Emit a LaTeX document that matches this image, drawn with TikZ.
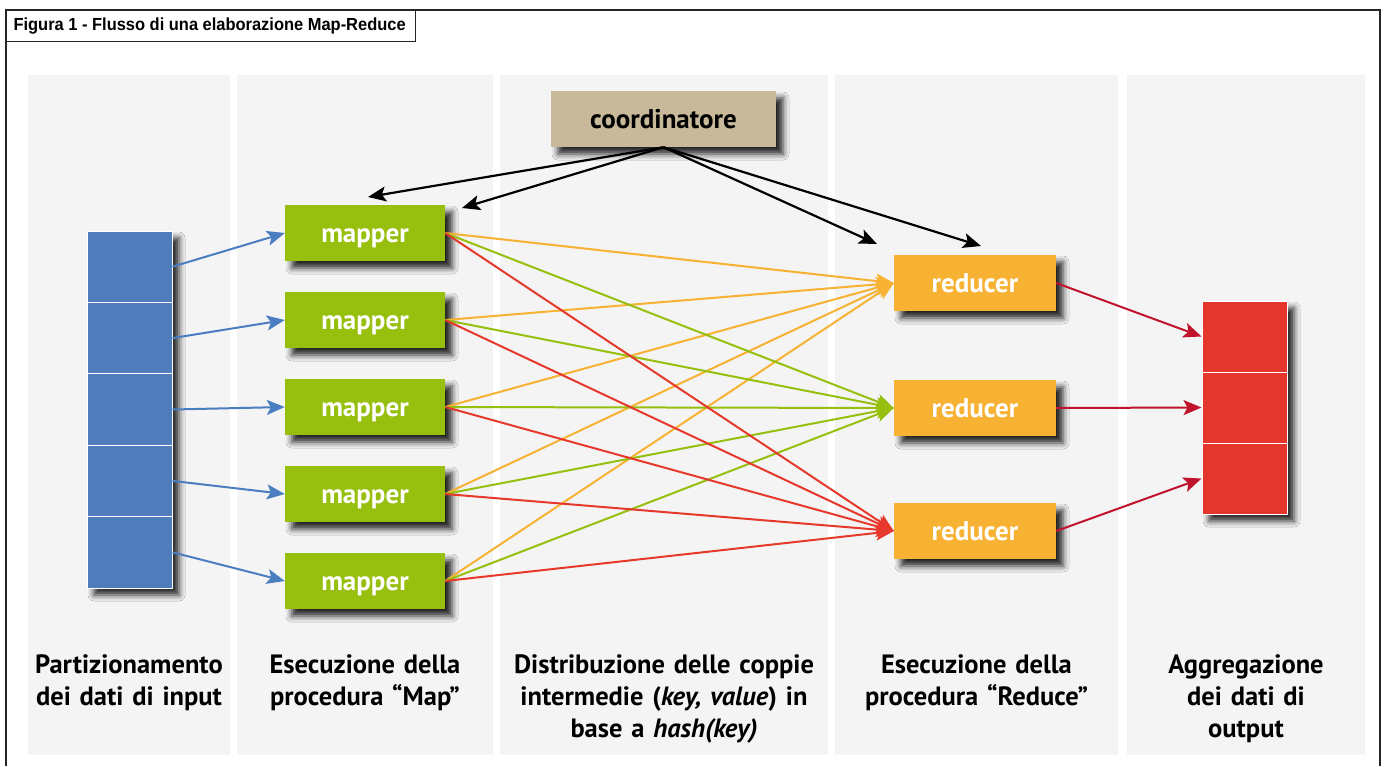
\documentclass[tikz,border=0pt]{standalone}
\usepackage{fontspec}
\setmainfont{PT Sans}
\newfontfamily\titlefont[FakeStretch=0.94]{Liberation Sans}
\usetikzlibrary{arrows.meta,shadows.blur}

\definecolor{panelbg}{HTML}{F4F4F4}
\definecolor{inblue}{HTML}{4F7CBA}
\definecolor{lineblue}{HTML}{4A7EC0}
\definecolor{mapgreen}{HTML}{97BF0D}
\definecolor{redorange}{HTML}{F7B233}
\definecolor{hotred}{HTML}{E6392C}
\definecolor{outred}{HTML}{E5362D}
\definecolor{darkred}{HTML}{C0132C}
\definecolor{tan}{HTML}{C9B99B}

\tikzset{
  panel/.style={fill=panelbg, draw=none},
  dropshadow/.style={blur shadow={shadow xshift=7pt, shadow yshift=-7pt,
      shadow blur radius=6pt, shadow opacity=85}},
  procbox/.style={dropshadow, minimum height=56pt, inner sep=0pt,
      text height=19pt, text depth=1pt,
      font=\fontsize{27}{30}\selectfont\bfseries},
  mapbox/.style={procbox, fill=mapgreen, text=white, minimum width=160pt},
  redbox/.style={procbox, fill=redorange, text=white, minimum width=162pt},
  coordbox/.style={procbox, fill=tan, text=black, minimum width=225pt},
  incell/.style={fill=inblue, draw=white, line width=1pt, minimum width=85pt,
      minimum height=71.4pt, inner sep=0pt},
  outcell/.style={fill=outred, draw=white, line width=1pt, minimum width=85pt,
      minimum height=71pt, inner sep=0pt},
  colshadow/.style={dropshadow, draw=none, inner sep=0pt},
  caption/.style={anchor=north, align=center, text width=330pt,
      font=\fontsize{26.5}{32}\selectfont\bfseries},
  tip/.style={-{Stealth[length=18pt,width=15pt,inset=4pt]}},
  feed/.style={tip, line width=2pt, color=lineblue},
  ctrl/.style={tip, line width=2.2pt, color=black},
  pair/.style={tip, line width=2pt},
  result/.style={tip, line width=2pt, color=darkred},
}

\begin{document}
\begin{tikzpicture}[x=1pt, y=-1pt]
\useasboundingbox (0,0) rectangle (1384,766);
\fill[white] (0,0) rectangle (1384,766);

% outer frame and title tab
\draw[line width=1.6pt, color=black!85] (6,766) -- (6,10) -- (1380,10) -- (1380,766);
\node[draw=black!85, line width=1.3pt, anchor=north west, minimum width=409pt,
      minimum height=31pt, inner sep=0pt, fill=white] (title) at (6,10) {};
\node[anchor=west, font=\titlefont\fontsize{17.5}{20}\selectfont\bfseries]
      (titletext) at (10,26) {Figura 1 - Flusso di una elaborazione Map-Reduce};

% background panels of the five phases
\fill[panel] (28,75) rectangle (230,755);
\fill[panel] (237,75) rectangle (493,755);
\fill[panel] (500,75) rectangle (828,755);
\fill[panel] (835,75) rectangle (1118,755);
\fill[panel] (1127,75) rectangle (1365,755);

% input partitions
\node[colshadow, fill=inblue, minimum width=85pt, minimum height=357pt] (incol) at (129.5,409.5) {};
\node[incell] (in1) at (129.5,266.7) {};
\node[incell] (in2) at (129.5,338.1) {};
\node[incell] (in3) at (129.5,409.5) {};
\node[incell] (in4) at (129.5,480.9) {};
\node[incell] (in5) at (129.5,552.3) {};

% output partitions
\node[colshadow, fill=outred, minimum width=85pt, minimum height=213pt] (outcol) at (1244.5,407.5) {};
\node[outcell] (out1) at (1244.5,336.5) {};
\node[outcell] (out2) at (1244.5,407.5) {};
\node[outcell] (out3) at (1244.5,478.5) {};

% coordinator
\node[coordbox] (co) at (663.5,119) {coordinatore};

% mappers
\node[mapbox] (m1) at (365,233) {mapper};
\node[mapbox] (m2) at (365,320) {mapper};
\node[mapbox] (m3) at (365,407) {mapper};
\node[mapbox] (m4) at (365,494) {mapper};
\node[mapbox] (m5) at (365,581) {mapper};

% reducers
\node[redbox] (r1) at (975,283) {reducer};
\node[redbox] (r2) at (975,408) {reducer};
\node[redbox] (r3) at (975,531) {reducer};

% input partitions to mappers
\foreach \i in {1,...,5} \draw[feed] (in\i.east) -- (m\i.west);

% coordinator dispatching work
\coordinate (cm1) at (368,197);
\coordinate (cm2) at (462,208);
\coordinate (cr1) at (877,244);
\coordinate (cr2) at (981,246);
\foreach \t in {cm1,cm2,cr1,cr2} \draw[ctrl] (co.south) -- (\t);

% intermediate (key, value) pairs, by hash(key)
\foreach \i in {1,...,5} \draw[pair, color=redorange] (m\i.east) -- (r1.west);
\foreach \i in {1,...,5} \draw[pair, color=mapgreen] (m\i.east) -- (r2.west);
\foreach \i in {1,...,5} \draw[pair, color=hotred] (m\i.east) -- (r3.west);

% reducers to output
\draw[result] (r1.east) -- (out1.west);
\draw[result] (r2.east) -- (out2.west);
\draw[result] (r3.east) -- (out3.west);

% phase captions
\node[caption] (c1) at (129,651) {Partizionamento\\dei dati di input};
\node[caption] (c2) at (365,651) {Esecuzione della\\procedura “Map”};
\node[caption] (c3) at (664,651) {Distribuzione delle coppie\\intermedie (\textit{key, value}) in\\base a \textit{hash(key)}};
\node[caption] (c4) at (976.5,651) {Esecuzione della\\procedura “Reduce”};
\node[caption] (c5) at (1246,651) {Aggregazione\\dei dati di\\output};
\end{tikzpicture}
\end{document}
